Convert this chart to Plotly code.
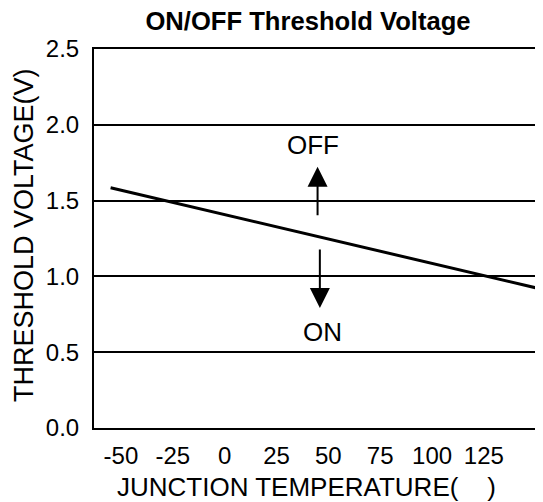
import plotly.graph_objects as go

# Data
line_temp = [-55, 153]          # junction temperature (deg C)
line_volt = [1.585, 0.915]      # threshold voltage (V)

x_tick_vals = [-50, -25, 0, 25, 50, 75, 100, 125]
x_tick_text = ["-50", "-25", "0", "25", "50", "75", "100", "125"]
y_tick_vals = [0.0, 0.5, 1.0, 1.5, 2.0, 2.5]
y_tick_text = ["0.0", "0.5", "1.0", "1.5", "2.0", "2.5"]

label_temps = [42.5, 47.0]
label_volts = [1.87, 0.63]
label_texts = ["OFF", "ON"]

arrow_temps = [44.8, 45.9]
arrow_tail_volts = [1.394, 1.187]
arrow_tip_volts = [1.724, 0.792]

TITLE = "ON/OFF Threshold Voltage"
X_TITLE = "JUNCTION TEMPERATURE(    )"
Y_TITLE = "THRESHOLD VOLTAGE(V)"

FONT = "Liberation Sans, Arial, sans-serif"

# the page body has an 8px default margin; size the figure to the visible window
W, H = 535, 494
ML, MT, MB = 86, 41, 74
PW, PH = W - ML, H - MT - MB

fig = go.Figure()
fig.add_trace(go.Scatter(
    x=line_temp, y=line_volt, mode="lines",
    line=dict(color="black", width=3), showlegend=False, hoverinfo="skip",
))

for t, v, s in zip(label_temps, label_volts, label_texts):
    fig.add_annotation(x=t, y=v, text=s, showarrow=False,
                       font=dict(family=FONT, size=26, color="black"),
                       xanchor="center", yanchor="middle")

for t, v0, v1 in zip(arrow_temps, arrow_tail_volts, arrow_tip_volts):
    fig.add_annotation(x=t, y=v1, ax=t, ay=v0, xref="x", yref="y",
                       axref="x", ayref="y", text="", showarrow=True,
                       arrowhead=2, arrowsize=2.0, arrowwidth=2,
                       arrowcolor="black", standoff=0, startstandoff=0)

fig.add_annotation(text=X_TITLE, xref="paper", yref="paper",
                   x=(298 - ML) / PW, y=-(479 - MT - PH) / PH,
                   xanchor="center", yanchor="middle", showarrow=False,
                   font=dict(family=FONT, size=26, color="black"))
fig.add_annotation(text=Y_TITLE, xref="paper", yref="paper",
                   x=-(ML - 16) / PW, y=1 - (227 - MT) / PH, textangle=-90,
                   xanchor="center", yanchor="middle", showarrow=False,
                   borderpad=0,
                   font=dict(family=FONT, size=27, color="black"))

fig.update_layout(
    template="none",
    width=W, height=H,
    margin=dict(l=ML, r=0, t=MT, b=MB, autoexpand=False),
    paper_bgcolor="white", plot_bgcolor="white",
    font=dict(family=FONT, color="black"),
    title=dict(text="<b>" + TITLE + "</b>",
               font=dict(family=FONT, size=25.6, color="black"),
               x=300 / W, xanchor="center", xref="container",
               y=1 - 13 / H, yanchor="middle", yref="container"),
    xaxis=dict(range=[-63, 153.5], tickvals=x_tick_vals, ticktext=x_tick_text,
               showgrid=False, zeroline=False, showline=True, mirror=True,
               linecolor="black", linewidth=2, ticks="", automargin=False,
               tickfont=dict(family=FONT, size=24, color="black"),
               ticklabelstandoff=5),
    yaxis=dict(range=[0, 2.5], tickvals=y_tick_vals, ticktext=y_tick_text,
               showgrid=True, gridcolor="black", gridwidth=2, zeroline=False,
               showline=True, linecolor="black", linewidth=2, ticks="",
               automargin=False,
               tickfont=dict(family=FONT, size=24, color="black"),
               ticklabelstandoff=8),
)

fig.write_html("out.html")
